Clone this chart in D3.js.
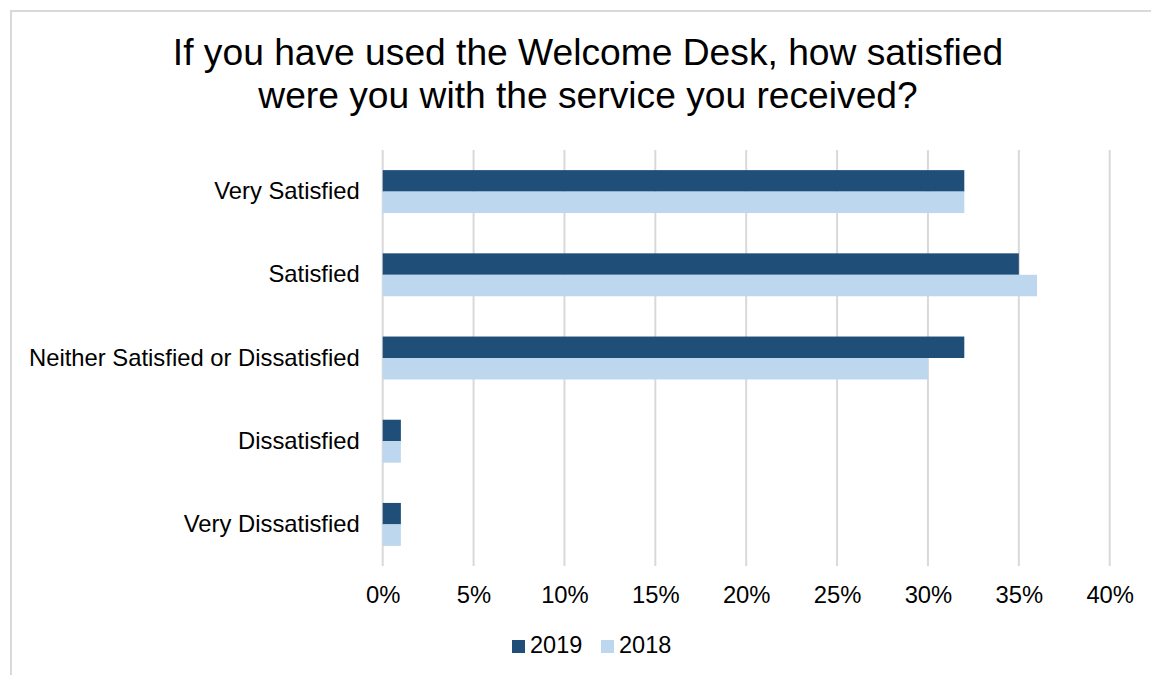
<!DOCTYPE html>
<html>
<head>
<meta charset="utf-8">
<script src="https://cdn.jsdelivr.net/npm/d3@7"></script>
<style>
  html, body { margin: 0; padding: 0; background: #ffffff; }
  svg { display: block; font-family: "Liberation Sans", Arial, sans-serif; }
</style>
</head>
<body>
<svg id="chart" width="1151" height="675"></svg>
<script>
// Survey responses, percent of respondents
const categories = ["Very Satisfied", "Satisfied", "Neither Satisfied or Dissatisfied", "Dissatisfied", "Very Dissatisfied"];
const seriesNames = ["2019", "2018"];
const values2019 = [32, 35, 32, 1, 1];
const values2018 = [32, 36, 30, 1, 1];
const xTicks = [0, 5, 10, 15, 20, 25, 30, 35, 40];
const titleLines = ["If you have used the Welcome Desk, how satisfied", "were you with the service you received?"];

const colors = { "2019": "#1f4e79", "2018": "#bdd7ee" };
const seriesValues = { "2019": values2019, "2018": values2018 };

const svg = d3.select("#chart");

// chart area frame
svg.append("rect")
  .attr("x", 11).attr("y", 11)
  .attr("width", 1180).attr("height", 700)
  .attr("fill", "#ffffff")
  .attr("stroke", "#d9d9d9").attr("stroke-width", 2);

// title
const title = svg.append("text")
  .attr("text-anchor", "middle")
  .attr("font-size", 37.2)
  .attr("fill", "#000000");
titleLines.forEach((t, i) => {
  title.append("tspan").attr("x", 588).attr("y", 65 + i * 42.5).text(t);
});

const plot = { left: 382.7, right: 1109.7, top: 150, bottom: 566 };

const x = d3.scaleLinear().domain([0, 40]).range([plot.left, plot.right]);
const y = d3.scaleBand().domain(categories).range([plot.top, plot.bottom]).paddingInner(0.484).paddingOuter(0.242);
const ySub = d3.scaleBand().domain(seriesNames).range([0, y.bandwidth()]);

// vertical gridlines
svg.append("g")
  .selectAll("line")
  .data(xTicks)
  .join("line")
  .attr("x1", d => x(d)).attr("x2", d => x(d))
  .attr("y1", plot.top).attr("y2", plot.bottom)
  .attr("stroke", "#d9d9d9").attr("stroke-width", 2);

// bars
const groups = svg.append("g")
  .selectAll("g")
  .data(categories)
  .join("g")
  .attr("transform", d => `translate(0,${y(d)})`);

groups.selectAll("rect")
  .data((c, ci) => seriesNames.map(s => ({ s, v: seriesValues[s][ci] })))
  .join("rect")
  .attr("x", x(0))
  .attr("y", d => ySub(d.s))
  .attr("width", d => x(d.v) - x(0))
  .attr("height", ySub.bandwidth())
  .attr("fill", d => colors[d.s]);

// x axis labels
const xAxis = d3.axisBottom(x)
  .tickValues(xTicks)
  .tickFormat(d => d + "%")
  .tickSize(0)
  .tickPadding(20);
const gx = svg.append("g")
  .attr("transform", `translate(0,${plot.bottom})`)
  .call(xAxis);
gx.select(".domain").remove();
gx.selectAll("text")
  .attr("font-size", 23.8)
  .attr("font-family", "Liberation Sans, Arial, sans-serif")
  .attr("fill", "#000000");

// y axis labels
const yAxis = d3.axisLeft(y).tickSize(0).tickPadding(23);
const gy = svg.append("g")
  .attr("transform", `translate(${plot.left},0)`)
  .call(yAxis);
gy.select(".domain").remove();
gy.selectAll("text")
  .attr("font-size", 23.8)
  .attr("font-family", "Liberation Sans, Arial, sans-serif")
  .attr("fill", "#000000");

// legend
const legendItems = [
  { name: "2019", x: 512 },
  { name: "2018", x: 601 }
];
const legend = svg.append("g");
legendItems.forEach(item => {
  legend.append("rect")
    .attr("x", item.x).attr("y", 640)
    .attr("width", 13).attr("height", 13)
    .attr("fill", colors[item.name]);
  legend.append("text")
    .attr("x", item.x + 18).attr("y", 653)
    .attr("font-size", 23.5)
    .attr("fill", "#000000")
    .text(item.name);
});
</script>
</body>
</html>
